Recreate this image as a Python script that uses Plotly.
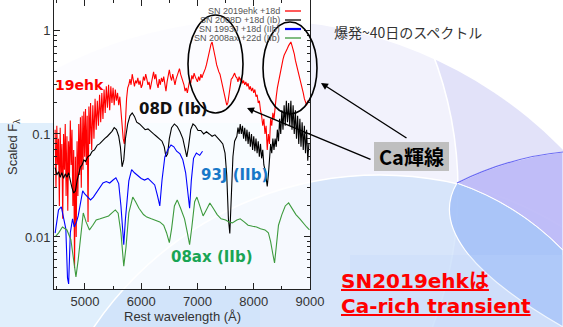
import plotly.graph_objects as go

# ---------------------------------------------------------------- data
# (rest wavelength [A], scaled F_lambda) for each comparison spectrum
SN2019EHK = [
    (4470, 0.110), (4485, 0.030), (4500, 0.120), (4515, 0.050), (4530, 0.090),
    (4545, 0.020), (4560, 0.115), (4575, 0.040), (4590, 0.080), (4605, 0.015),
    (4620, 0.100), (4635, 0.045), (4650, 0.125), (4665, 0.025), (4680, 0.095),
    (4695, 0.018), (4710, 0.085), (4725, 0.040), (4740, 0.135), (4755, 0.050),
    (4770, 0.110), (4785, 0.020), (4800, 0.070), (4815, 0.005), (4830, 0.060),
    (4845, 0.010), (4860, 0.085), (4875, 0.025), (4890, 0.125), (4905, 0.040),
    (4920, 0.145), (4935, 0.030), (4950, 0.150), (4965, 0.045), (4980, 0.165),
    (4995, 0.060), (5010, 0.175), (5025, 0.050), (5040, 0.150), (5055, 0.014),
    (5070, 0.185), (5085, 0.080), (5100, 0.200), (5120, 0.070), (5140, 0.190),
    (5160, 0.090), (5180, 0.220), (5200, 0.110), (5220, 0.210), (5240, 0.120),
    (5260, 0.240), (5280, 0.130), (5300, 0.250), (5320, 0.140), (5340, 0.270),
    (5360, 0.160), (5380, 0.290), (5400, 0.180), (5420, 0.300), (5440, 0.170),
    (5460, 0.290), (5480, 0.200), (5500, 0.280), (5520, 0.190), (5540, 0.270),
    (5560, 0.210), (5580, 0.250), (5600, 0.190), (5620, 0.230), (5640, 0.160),
    (5660, 0.140), (5680, 0.090), (5700, 0.080), (5720, 0.140), (5740, 0.220),
    (5760, 0.280), (5780, 0.300), (5800, 0.340), (5820, 0.300), (5840, 0.380),
    (5860, 0.330), (5880, 0.290), (5900, 0.330), (5920, 0.310), (5940, 0.350),
    (5960, 0.300), (5980, 0.330), (6000, 0.280), (6020, 0.300), (6040, 0.360),
    (6060, 0.330), (6080, 0.380), (6100, 0.340), (6120, 0.300), (6140, 0.320),
    (6160, 0.270), (6180, 0.310), (6200, 0.360), (6220, 0.400), (6240, 0.340),
    (6260, 0.380), (6280, 0.310), (6300, 0.280), (6320, 0.340), (6340, 0.300),
    (6360, 0.350), (6380, 0.320), (6400, 0.360), (6420, 0.300), (6440, 0.260),
    (6460, 0.320), (6480, 0.380), (6500, 0.420), (6520, 0.360), (6540, 0.330),
    (6560, 0.380), (6580, 0.340), (6600, 0.300), (6620, 0.340), (6640, 0.370),
    (6660, 0.410), (6680, 0.430), (6700, 0.380), (6720, 0.350), (6740, 0.330),
    (6760, 0.300), (6780, 0.260), (6800, 0.280), (6820, 0.250), (6840, 0.290),
    (6860, 0.330), (6880, 0.310), (6900, 0.370), (6920, 0.340), (6940, 0.390),
    (6960, 0.360), (6980, 0.340), (7000, 0.320), (7020, 0.360), (7040, 0.330),
    (7060, 0.380), (7080, 0.350), (7100, 0.380), (7120, 0.400), (7140, 0.430),
    (7160, 0.470), (7180, 0.530), (7200, 0.600), (7220, 0.680), (7240, 0.740),
    (7260, 0.780), (7280, 0.700), (7300, 0.620), (7320, 0.540), (7340, 0.470),
    (7360, 0.420), (7380, 0.400), (7400, 0.380), (7420, 0.340), (7440, 0.300),
    (7460, 0.280), (7480, 0.250), (7500, 0.220), (7520, 0.190), (7540, 0.200),
    (7560, 0.240), (7580, 0.300), (7600, 0.340), (7620, 0.350), (7640, 0.370),
    (7660, 0.390), (7680, 0.360), (7700, 0.350), (7720, 0.320), (7740, 0.360),
    (7760, 0.330), (7780, 0.350), (7800, 0.310), (7820, 0.330), (7840, 0.300),
    (7860, 0.320), (7880, 0.290), (7900, 0.310), (7920, 0.270), (7940, 0.290),
    (7960, 0.260), (7980, 0.280), (8000, 0.250), (8020, 0.270), (8040, 0.230),
    (8060, 0.240), (8080, 0.200), (8100, 0.210), (8120, 0.170), (8140, 0.150),
    (8160, 0.120), (8180, 0.140), (8200, 0.100), (8220, 0.120), (8240, 0.070),
    (8260, 0.100), (8280, 0.080), (8300, 0.140), (8320, 0.120), (8340, 0.160),
    (8360, 0.140), (8380, 0.200), (8400, 0.230), (8420, 0.280), (8440, 0.320),
    (8460, 0.380), (8480, 0.420), (8500, 0.460), (8520, 0.530), (8540, 0.580),
    (8560, 0.620), (8580, 0.660), (8600, 0.680), (8620, 0.720), (8640, 0.760),
    (8660, 0.780), (8680, 0.720), (8700, 0.660), (8720, 0.600), (8740, 0.520),
    (8760, 0.470), (8780, 0.420), (8800, 0.400), (8820, 0.360), (8840, 0.310),
    (8860, 0.280), (8880, 0.250), (8900, 0.220), (8920, 0.200), (8940, 0.190),
    (8960, 0.210), (8980, 0.200),
]

SN2008D = [
    (4470, 0.047), (4500, 0.040), (4530, 0.043), (4560, 0.038), (4590, 0.042),
    (4620, 0.037), (4650, 0.041), (4680, 0.038), (4710, 0.042), (4740, 0.034),
    (4770, 0.030), (4800, 0.0267), (4830, 0.028), (4860, 0.035), (4890, 0.042),
    (4920, 0.048), (4950, 0.050), (4980, 0.056), (5010, 0.054), (5050, 0.060),
    (5090, 0.062), (5130, 0.068), (5170, 0.070), (5220, 0.078), (5260, 0.080),
    (5300, 0.085), (5350, 0.090), (5400, 0.095), (5440, 0.100), (5480, 0.106),
    (5520, 0.115), (5560, 0.110), (5600, 0.095), (5630, 0.075), (5660, 0.048),
    (5690, 0.056), (5720, 0.090), (5760, 0.125), (5800, 0.150), (5840, 0.160),
    (5880, 0.148), (5920, 0.130), (5970, 0.125), (6020, 0.118), (6070, 0.110),
    (6120, 0.112), (6170, 0.105), (6220, 0.100), (6270, 0.095), (6320, 0.090),
    (6370, 0.085), (6410, 0.075), (6440, 0.060), (6470, 0.064), (6500, 0.090),
    (6540, 0.115), (6590, 0.125), (6640, 0.118), (6690, 0.105), (6740, 0.090),
    (6780, 0.070), (6810, 0.060), (6840, 0.075), (6880, 0.110), (6920, 0.125),
    (6960, 0.120), (7010, 0.108), (7060, 0.108), (7110, 0.100), (7160, 0.105),
    (7210, 0.100), (7260, 0.095), (7310, 0.098), (7360, 0.090), (7410, 0.085),
    (7450, 0.080), (7490, 0.065), (7520, 0.040), (7550, 0.015), (7575, 0.0108),
    (7600, 0.030), (7630, 0.060), (7660, 0.085), (7700, 0.095), (7720, 0.115),
    (7740, 0.100), (7760, 0.125), (7780, 0.100), (7800, 0.120), (7820, 0.090),
    (7840, 0.115), (7860, 0.085), (7880, 0.110), (7900, 0.080), (7920, 0.105),
    (7940, 0.075), (7960, 0.100), (7980, 0.070), (8000, 0.095), (8020, 0.068),
    (8040, 0.090), (8060, 0.065), (8080, 0.085), (8100, 0.060), (8120, 0.080),
    (8140, 0.058), (8160, 0.070), (8180, 0.050), (8200, 0.045), (8220, 0.038),
    (8240, 0.031), (8260, 0.040), (8280, 0.060), (8300, 0.080), (8320, 0.065),
    (8340, 0.090), (8360, 0.070), (8380, 0.090), (8400, 0.075), (8420, 0.110),
    (8440, 0.085), (8460, 0.140), (8480, 0.100), (8500, 0.170), (8520, 0.110),
    (8540, 0.190), (8560, 0.120), (8580, 0.210), (8600, 0.130), (8620, 0.200),
    (8640, 0.120), (8660, 0.210), (8680, 0.110), (8700, 0.190), (8720, 0.100),
    (8740, 0.170), (8760, 0.090), (8780, 0.150), (8800, 0.080), (8820, 0.140),
    (8840, 0.075), (8860, 0.130), (8880, 0.070), (8900, 0.120), (8920, 0.065),
    (8940, 0.110), (8960, 0.055), (8980, 0.080),
]

SN1993J = [
    (4470, 0.0109), (4530, 0.0183), (4580, 0.0196), (4620, 0.0150), (4660, 0.0120),
    (4690, 0.0040), (4710, 0.0035), (4740, 0.0110), (4780, 0.0150), (4810, 0.0125),
    (4850, 0.0140), (4880, 0.0160), (4920, 0.0214), (4960, 0.0280), (5000, 0.0260),
    (5050, 0.0244), (5100, 0.0229), (5150, 0.0244), (5200, 0.0267), (5260, 0.0300),
    (5320, 0.0334), (5380, 0.0345), (5440, 0.0334), (5500, 0.0357), (5550, 0.0375),
    (5600, 0.0330), (5640, 0.0200), (5690, 0.0084), (5720, 0.0150), (5780, 0.0350),
    (5830, 0.0450), (5880, 0.0420), (5940, 0.0390), (6000, 0.0370), (6060, 0.0357),
    (6120, 0.0370), (6180, 0.0345), (6240, 0.0320), (6290, 0.0250), (6330, 0.0200),
    (6370, 0.0357), (6420, 0.0600), (6470, 0.0700), (6530, 0.0780), (6580, 0.0750),
    (6630, 0.0680), (6690, 0.0640), (6740, 0.0560), (6790, 0.0420), (6830, 0.0250),
    (6860, 0.0190), (6890, 0.0350), (6930, 0.0580), (6980, 0.0654), (7040, 0.0620),
    (7090, 0.0680),
]

SN2008AX = [
    (4470, 0.0100), (4530, 0.0109), (4600, 0.0125), (4680, 0.0117), (4750, 0.0094),
    (4800, 0.0060), (4840, 0.0041), (4880, 0.0060), (4930, 0.0110), (4970, 0.0171),
    (5020, 0.0140), (5080, 0.0117), (5140, 0.0130), (5200, 0.0146), (5270, 0.0150),
    (5350, 0.0156), (5420, 0.0160), (5480, 0.0171), (5540, 0.0183), (5590, 0.0170),
    (5640, 0.0110), (5690, 0.0052), (5730, 0.0080), (5780, 0.0171), (5850, 0.0244),
    (5900, 0.0220), (5960, 0.0190), (6040, 0.0165), (6100, 0.0156), (6180, 0.0150),
    (6260, 0.0145), (6330, 0.0140), (6400, 0.0130), (6450, 0.0110), (6500, 0.0088),
    (6540, 0.0120), (6590, 0.0200), (6640, 0.0229), (6700, 0.0190), (6770, 0.0150),
    (6820, 0.0110), (6860, 0.0084), (6900, 0.0125), (6950, 0.0220), (6990, 0.0244),
    (7040, 0.0200), (7100, 0.0160), (7150, 0.0180), (7220, 0.0214), (7280, 0.0190),
    (7350, 0.0165), (7420, 0.0150), (7500, 0.0146), (7560, 0.0140), (7620, 0.0137),
    (7700, 0.0146), (7760, 0.0150), (7830, 0.0140), (7900, 0.0130), (7980, 0.0127),
    (8050, 0.0125), (8120, 0.0120), (8200, 0.0117), (8260, 0.0110), (8300, 0.0090),
    (8340, 0.0068), (8370, 0.0056), (8400, 0.0080), (8440, 0.0130), (8500, 0.0165),
    (8560, 0.0200), (8620, 0.0214), (8680, 0.0190), (8750, 0.0165), (8820, 0.0150),
    (8880, 0.0135), (8940, 0.0125), (8990, 0.0117),
]

SERIES_NAMES = ["SN 2019ehk +18d", "SN 2008D +18d (Ib)",
                "SN 1993J +18d (IIb)", "SN 2008ax +22d (IIb)"]
SERIES_COLORS = ["#ff0000", "#000000", "#0000ff", "#3d9a3d"]

X_TICKS = [5000, 6000, 7000, 8000, 9000]
Y_TICKS = [0.01, 0.1, 1]
Y_TICK_TEXT = ["0.01", "0.1", "1"]
Y_MINOR = [k * 10.0 ** d for d in (-3, -2, -1, 0) for k in range(2, 10)]

# ---------------------------------------------------------------- geometry
W, H = 563, 327
ML, MR, MT, MB = 54, 253, 0, 38
PW, PH = W - ML - MR, H - MT - MB


def px(x):
    return (x - ML) / PW


def py(y):
    return (H - MB - y) / PH


def circle(cx, cy, r, fill, line="rgba(0,0,0,0)", width=0, layer="below"):
    return dict(type="circle", xref="paper", yref="paper",
                x0=px(cx - r), x1=px(cx + r), y0=py(cy + r), y1=py(cy - r),
                fillcolor=fill, line=dict(color=line, width=width), layer=layer)


def rect(x0, y0, x1, y1, fill, layer="below"):
    return dict(type="rect", xref="paper", yref="paper",
                x0=px(x0), x1=px(x1), y0=py(y1), y1=py(y0),
                fillcolor=fill, line=dict(width=0), layer=layer)


def path(points, fill="rgba(0,0,0,0)", line="rgba(0,0,0,0)", width=0, closed=True):
    # points: list of commands (cmd, [(x, y), ...]) in pixel space
    parts = []
    for cmd, pts in points:
        parts.append(cmd + " " + " ".join(f"{px(x):.5f},{py(y):.5f}" for x, y in pts))
    d = " ".join(parts) + (" Z" if closed else "")
    return dict(type="path", xref="paper", yref="paper", path=d,
                fillcolor=fill, line=dict(color=line, width=width), layer="below")


# ---------------------------------------------------------------- figure
fig = go.Figure()
for data, name, color in zip([SN2019EHK, SN2008D, SN1993J, SN2008AX],
                             SERIES_NAMES, SERIES_COLORS):
    wl, fl = zip(*data)
    fig.add_trace(go.Scatter(x=list(wl), y=list(fl), mode="lines", name=name,
                             line=dict(color=color, width=1.1),
                             showlegend=False))

shapes = [
    # slide background decoration
    circle(255, 450, 430, "#e2e2f9"),
    circle(78, 190, 380, "rgba(255,255,255,0.55)", "#ffffff", 1.5),
    rect(0, 0, 54, 123, "#ffffff"),
    rect(0, 123, 260, 327, "rgba(222,238,252,0.9)"),
    circle(380, 520, 345, "rgba(205,224,250,0.75)", "#ffffff", 1.5),
    path([("M", [(457, 183)]), ("Q", [(518, 204), (563, 250)]),
          ("L", [(563, 327), (365, 327)]), ("Q", [(420, 245), (457, 183)])],
         fill="rgba(162,192,247,0.85)", line="#ffffff", width=1.2),
    path([("M", [(457, 183)]), ("Q", [(510, 157), (563, 152)]),
          ("L", [(563, 250)]), ("Q", [(518, 204), (457, 183)])],
         fill="rgba(190,186,248,0.95)", line="#ffffff", width=1),
    path([("M", [(457, 183)]), ("Q", [(510, 157), (563, 152)])],
         line="#6a6af2", width=1.2, closed=False),
    rect(350, 255, 563, 327, "rgba(190,215,250,0.25)"),
    # plot panel wash
    dict(type="rect", xref="paper", yref="paper", x0=0, x1=1, y0=0, y1=1,
         fillcolor="rgba(255,255,255,0.78)", line=dict(width=0), layer="below"),
]

# ellipses around the Ca lines
for x0, y0, x1, y1 in [(188, 15, 243, 113), (263, 22, 317, 114)]:
    shapes.append(dict(type="circle", xref="paper", yref="paper",
                       x0=px(x0), x1=px(x1), y0=py(y1), y1=py(y0),
                       line=dict(color="#000000", width=1.6), layer="above"))

# key: text followed by a short line sample
KEY_ROWS = [11, 20, 29, 38]
annotations = []
for yrow, name, color in zip(KEY_ROWS, SERIES_NAMES, SERIES_COLORS):
    annotations.append(dict(xref="paper", yref="paper", x=px(282), y=py(yrow),
                            xanchor="right", yanchor="middle", showarrow=False,
                            text=name,
                            font=dict(family="Liberation Sans", size=9, color="#555555")))
    shapes.append(dict(type="line", xref="paper", yref="paper",
                       x0=px(285), x1=px(301), y0=py(yrow), y1=py(yrow),
                       line=dict(color=color, width=2.2 if color == "#0000ff" else 1.3),
                       layer="above"))

# "Ca" label box
shapes.append(dict(type="rect", xref="paper", yref="paper",
                   x0=px(374), x1=px(449), y0=py(171), y1=py(142),
                   fillcolor="#bfbfbf", line=dict(width=0), layer="above"))

fig.update_layout(shapes=shapes)


def label(x, y, text, size, color, family="DejaVu Sans", xanchor="center", **font_kw):
    return dict(xref="paper", yref="paper", x=px(x), y=py(y), text=text,
                showarrow=False, xanchor=xanchor, yanchor="middle",
                font=dict(family=family, size=size, color=color, **font_kw))


annotations += [
    label(79, 85, "<b>19ehk</b>", 14, "#ff0000"),
    label(173, 109, "<b>08D (Ib)</b>", 15, "#111111"),
    label(234, 175, "<b>93J (IIb)</b>", 15, "#1878c8"),
    label(212, 257, "<b>08ax (IIb)</b>", 15, "#19a555"),
    label(411.5, 156.5, "<b>Ca輝線</b>", 20, "#000000",
          family="Noto Sans CJK JP"),
    label(332, 32, "爆発~40日のスペクトル", 14, "#333333",
          family="Noto Sans CJK JP", xanchor="left"),
    label(339, 281, "<b>SN2019ehkは</b>", 20, "#ff0000",
          family="DejaVu Sans, Noto Sans CJK JP", xanchor="left", lineposition="under"),
    label(339, 306, "<b>Ca-rich transient</b>", 20, "#ff0000",
          family="DejaVu Sans, Noto Sans CJK JP", xanchor="left", lineposition="under"),
    label(182, 316, "Rest wavelength (Å)", 13, "#333333", family="Liberation Sans"),
    dict(xref="paper", yref="paper", x=px(13), y=py(147), text="Scaled F<sub>λ</sub>",
         showarrow=False, textangle=-90, xanchor="center", yanchor="middle",
         font=dict(family="Liberation Sans", size=13, color="#333333")),
]

# arrows from the label box to the emission features
for (hx, hy), (tx, ty) in [((321, 83), (408, 139)), ((247, 108), (372, 160))]:
    annotations.append(dict(xref="paper", yref="paper", x=px(hx), y=py(hy),
                            ax=tx - hx, ay=ty - hy, text="", showarrow=True,
                            arrowhead=2, arrowsize=1, arrowwidth=1.4,
                            arrowcolor="#000000"))

fig.update_layout(
    annotations=annotations,
    width=W, height=H,
    margin=dict(l=ML, r=MR, t=MT, b=MB, pad=0),
    paper_bgcolor="#ffffff",
    plot_bgcolor="#ffffff",
    template="none",
    showlegend=False,
    xaxis=dict(range=[4450, 9000], tickvals=X_TICKS, ticks="inside", ticklen=6,
               mirror="allticks", showline=True, linecolor="#222222", linewidth=1,
               showgrid=False, zeroline=False, automargin=False,
               tickfont=dict(family="Liberation Sans", size=13, color="#333333"),
               minor=dict(dtick=500, tick0=4500, ticks="inside", ticklen=3,
                          tickcolor="#222222", showgrid=False),
               tickcolor="#222222"),
    yaxis=dict(type="log", range=[-2.505, 0.30], tickvals=Y_TICKS,
               ticktext=Y_TICK_TEXT, ticks="inside", ticklen=6,
               mirror="allticks", showline=True, linecolor="#222222", linewidth=1,
               showgrid=False, zeroline=False, automargin=False,
               tickfont=dict(family="Liberation Sans", size=13, color="#333333"),
               minor=dict(tickvals=Y_MINOR, ticks="inside", ticklen=3,
                          tickcolor="#222222", showgrid=False),
               tickcolor="#222222"),
)

fig.write_html("out.html")
